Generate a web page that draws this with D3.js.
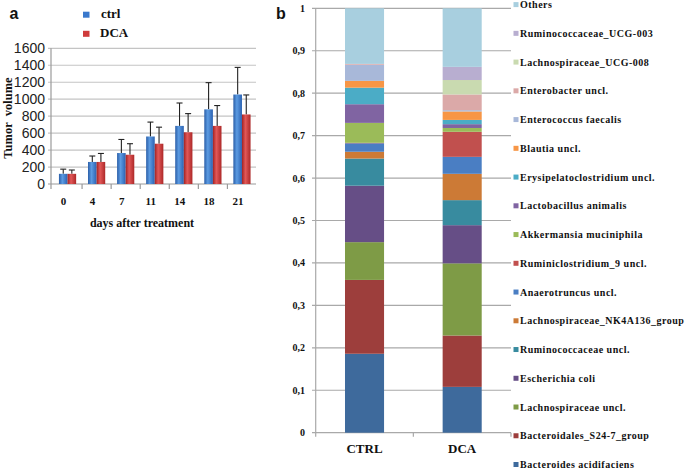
<!DOCTYPE html>
<html>
<head>
<meta charset="utf-8">
<script src="https://cdn.jsdelivr.net/npm/d3@7"></script>
<style>
  html, body { margin: 0; padding: 0; background: #fff; }
  svg { display: block; }
</style>
</head>
<body>
<svg id="chart" width="685" height="470"></svg>
<script>
// ---------- Panel a data ----------
const days = ["0", "4", "7", "11", "14", "18", "21"];
const groupsA = ["ctrl", "DCA"];
const ctrlMean = [120, 260, 365, 560, 685, 880, 1055];
const ctrlSD   = [55, 70, 160, 170, 270, 315, 320];
const dcaMean  = [120, 260, 345, 475, 610, 685, 820];
const dcaSD    = [45, 100, 130, 195, 220, 240, 230];
const tumorTicks = [0, 200, 400, 600, 800, 1000, 1200, 1400, 1600];

// ---------- Panel b data (bottom -> top of stack) ----------
const samples = ["CTRL", "DCA"];
const taxa = [
  "Bacteroides acidifaciens",
  "Bacteroidales_S24-7_group",
  "Lachnospiraceae uncl.",
  "Escherichia coli",
  "Ruminococcaceae uncl.",
  "Lachnospiraceae_NK4A136_group",
  "Anaerotruncus uncl.",
  "Ruminiclostridium_9 uncl.",
  "Akkermansia muciniphila",
  "Lactobacillus animalis",
  "Erysipelatoclostridium uncl.",
  "Blautia uncl.",
  "Enterococcus faecalis",
  "Enterobacter uncl.",
  "Lachnospiraceae_UCG-008",
  "Ruminococcaceae_UCG-003",
  "Others"
];
const ctrlAbund = [0.186, 0.174, 0.089, 0.133, 0.064, 0.016, 0.020, 0.001, 0.047, 0.044, 0.039, 0.016, 0.038, 0.002, 0.000, 0.000, 0.131];
const dcaAbund  = [0.108, 0.121, 0.170, 0.090, 0.059, 0.062, 0.040, 0.059, 0.009, 0.009, 0.010, 0.020, 0.003, 0.037, 0.034, 0.031, 0.138];
const abundTicks = [0, 0.1, 0.2, 0.3, 0.4, 0.5, 0.6, 0.7, 0.8, 0.9, 1];
const taxaColors = [
  "#3e6a9c", "#9d3e3c", "#7e9b46", "#664e86", "#388b9f", "#cc7a36",
  "#4a7ec3", "#c1504e", "#9bbb59", "#8064a2", "#4bacc6", "#f79646",
  "#a8b8d9", "#dba9a8", "#c9dab0", "#b8aed0", "#a8cfdf"
];

const svg = d3.select("#chart");
const serif = "'Liberation Serif', 'Times New Roman', serif";
const sans = "'Liberation Sans', Arial, sans-serif";

// =============== Panel a ===============
const ax = d3.scaleBand().domain(days).range([53, 256.5]);
const ay = d3.scaleLinear().domain([0, 1600]).range([184, 48.3]);
const gA = svg.append("g");

const defs = svg.append("defs");
function grad(id, c0, c1, c2) {
  const g = defs.append("linearGradient").attr("id", id).attr("x1", "0").attr("x2", "1").attr("y1", "0").attr("y2", "0");
  g.append("stop").attr("offset", "0%").attr("stop-color", c0);
  g.append("stop").attr("offset", "40%").attr("stop-color", c1);
  g.append("stop").attr("offset", "100%").attr("stop-color", c2);
}
grad("gBlue", "#2a5ea8", "#5c9be2", "#2b62b2");
grad("gRed", "#a32222", "#e25858", "#ad2828");

// gridlines
gA.selectAll("line.grid").data(tumorTicks).enter().append("line")
  .attr("x1", 48).attr("x2", 256)
  .attr("y1", d => ay(d)).attr("y2", d => ay(d))
  .attr("stroke", d => d === 0 ? "#9a9a9a" : "#c4c4c4").attr("stroke-width", 1.2);
// y axis line
gA.append("line").attr("x1", 51).attr("x2", 51).attr("y1", ay(1600)).attr("y2", ay(0))
  .attr("stroke", "#9a9a9a").attr("stroke-width", 1.2);
// x ticks at band boundaries
gA.selectAll("line.xt").data(days.slice(1)).enter().append("line")
  .attr("x1", d => ax(d)).attr("x2", d => ax(d))
  .attr("y1", ay(0)).attr("y2", ay(0) + 5)
  .attr("stroke", "#9a9a9a").attr("stroke-width", 1.2);
gA.append("line").attr("x1", 51).attr("x2", 51).attr("y1", ay(0)).attr("y2", ay(0) + 5)
  .attr("stroke", "#9a9a9a").attr("stroke-width", 1.2);

// y tick labels
gA.selectAll("text.yl").data(tumorTicks).enter().append("text")
  .attr("x", 45).attr("y", d => ay(d) + 5)
  .attr("text-anchor", "end").attr("font-family", sans).attr("font-size", 14)
  .attr("fill", "#222").text(d => d);

// x tick labels
gA.selectAll("text.xl").data(days).enter().append("text")
  .attr("x", d => ax(d) + ax.bandwidth() / 2 - 4).attr("y", 205)
  .attr("text-anchor", "middle").attr("font-family", serif).attr("font-weight", "bold")
  .attr("font-size", 11).attr("fill", "#111").text(d => d);

// bars
const bw = 8.6;
const seriesA = [
  { name: "ctrl", mean: ctrlMean, sd: ctrlSD, fill: "url(#gBlue)", off: -bw },
  { name: "DCA", mean: dcaMean, sd: dcaSD, fill: "url(#gRed)", off: 0 }
];
seriesA.forEach(s => {
  const cx = i => ax(days[i]) + ax.bandwidth() / 2 + s.off;
  // error bars
  days.forEach((d, i) => {
    const x = cx(i) + bw / 2;
    gA.append("line").attr("x1", x).attr("x2", x)
      .attr("y1", ay(s.mean[i])).attr("y2", ay(s.mean[i] + s.sd[i]))
      .attr("stroke", "#222").attr("stroke-width", 1.1);
    gA.append("line").attr("x1", x - 3).attr("x2", x + 3)
      .attr("y1", ay(s.mean[i] + s.sd[i])).attr("y2", ay(s.mean[i] + s.sd[i]))
      .attr("stroke", "#222").attr("stroke-width", 1.1);
  });
  gA.selectAll(null).data(s.mean).enter().append("rect")
    .attr("x", (d, i) => cx(i)).attr("width", bw)
    .attr("y", d => ay(d)).attr("height", d => ay(0) - ay(d))
    .attr("fill", s.fill);
});

// legend a
const legA = [{ name: "ctrl", c: "#3a78cc", y: 14.7 }, { name: "DCA", c: "#cf3b3b", y: 33.8 }];
legA.forEach(l => {
  gA.append("rect").attr("x", 83).attr("y", l.y - 3).attr("width", 6.5).attr("height", 6)
    .attr("fill", l.c);
  gA.append("text").attr("x", l.name === "ctrl" ? 101 : 100).attr("y", l.y + 3)
    .attr("font-family", serif).attr("font-weight", "bold").attr("font-size", 13)
    .attr("fill", "#111").text(l.name);
});

// axis titles
gA.append("text").attr("x", 142).attr("y", 227)
  .attr("text-anchor", "middle").attr("font-family", serif).attr("font-weight", "bold")
  .attr("font-size", 12).attr("fill", "#111").text("days after treatment");
gA.append("text").attr("transform", "translate(11.5,118) rotate(-90)")
  .attr("text-anchor", "middle").attr("font-family", serif).attr("font-weight", "bold")
  .attr("font-size", 12.5).attr("fill", "#111").attr("xml:space", "preserve").text("Tumor  volume");
gA.append("text").attr("x", 9.5).attr("y", 18.5)
  .attr("font-family", sans).attr("font-weight", "bold").attr("font-size", 16)
  .attr("fill", "#111").text("a");

// =============== Panel b ===============
const bx = d3.scaleBand().domain(samples).range([315.7, 511]).paddingInner(0.6).paddingOuter(0.3);
const by = d3.scaleLinear().domain([0, 1]).range([432.7, 8.3]);
const gB = svg.append("g");

gB.selectAll("line.grid").data(abundTicks).enter().append("line")
  .attr("x1", 312).attr("x2", 511)
  .attr("y1", d => by(d)).attr("y2", d => by(d))
  .attr("stroke", "#a9a9a9").attr("stroke-width", 1.2);
gB.append("line").attr("x1", 315.7).attr("x2", 315.7).attr("y1", by(1)).attr("y2", by(0) + 4)
  .attr("stroke", "#a9a9a9").attr("stroke-width", 1.2);
const midX = (315.7 + 511) / 2;
[midX, 511].forEach(x => gB.append("line").attr("x1", x).attr("x2", x)
  .attr("y1", by(0)).attr("y2", by(0) + 4).attr("stroke", "#a9a9a9").attr("stroke-width", 1.2));

const fmt = d => d === 0 ? "0" : d === 1 ? "1" : d3.format(".1f")(d).replace(".", ",");
gB.selectAll("text.yl").data(abundTicks).enter().append("text")
  .attr("x", 305).attr("y", d => by(d) + 3.5)
  .attr("text-anchor", "end").attr("font-family", serif).attr("font-weight", "bold")
  .attr("font-size", 10).attr("fill", "#111").text(fmt);

gB.selectAll("text.xl").data(samples).enter().append("text")
  .attr("x", d => bx(d) + bx.bandwidth() / 2).attr("y", 452.5)
  .attr("text-anchor", "middle").attr("font-family", serif).attr("font-weight", "bold")
  .attr("font-size", 13).attr("fill", "#111").text(d => d);

// stacked bars
const sampleRows = samples.map((s, j) => {
  const o = { sample: s };
  taxa.forEach((t, i) => { o[t] = (j === 0 ? ctrlAbund : dcaAbund)[i]; });
  return o;
});
const stack = d3.stack().keys(taxa)(sampleRows);
const colorOf = d3.scaleOrdinal().domain(taxa).range(taxaColors);
stack.forEach(layer => {
  gB.selectAll(null).data(layer).enter().append("rect")
    .attr("x", d => bx(d.data.sample)).attr("width", bx.bandwidth())
    .attr("y", d => by(d[1])).attr("height", d => Math.max(0, by(d[0]) - by(d[1])))
    .attr("fill", colorOf(layer.key));
});

// legend b (top = Others)
const legY = d3.scalePoint().domain(taxa.slice().reverse()).range([4.6, 464.5]);
taxa.forEach(t => {
  const y = legY(t);
  gB.append("rect").attr("x", 513.5).attr("y", y - 2.5).attr("width", 5).attr("height", 5)
    .attr("fill", colorOf(t));
  gB.append("text").attr("x", 520).attr("y", y + 3.5)
    .attr("font-family", serif).attr("font-weight", "bold").attr("font-size", 10)
    .attr("letter-spacing", 0.5).attr("fill", "#111").text(t);
});

gB.append("text").attr("x", 276).attr("y", 18.5)
  .attr("font-family", sans).attr("font-weight", "bold").attr("font-size", 16)
  .attr("fill", "#111").text("b");
</script>
</body>
</html>
